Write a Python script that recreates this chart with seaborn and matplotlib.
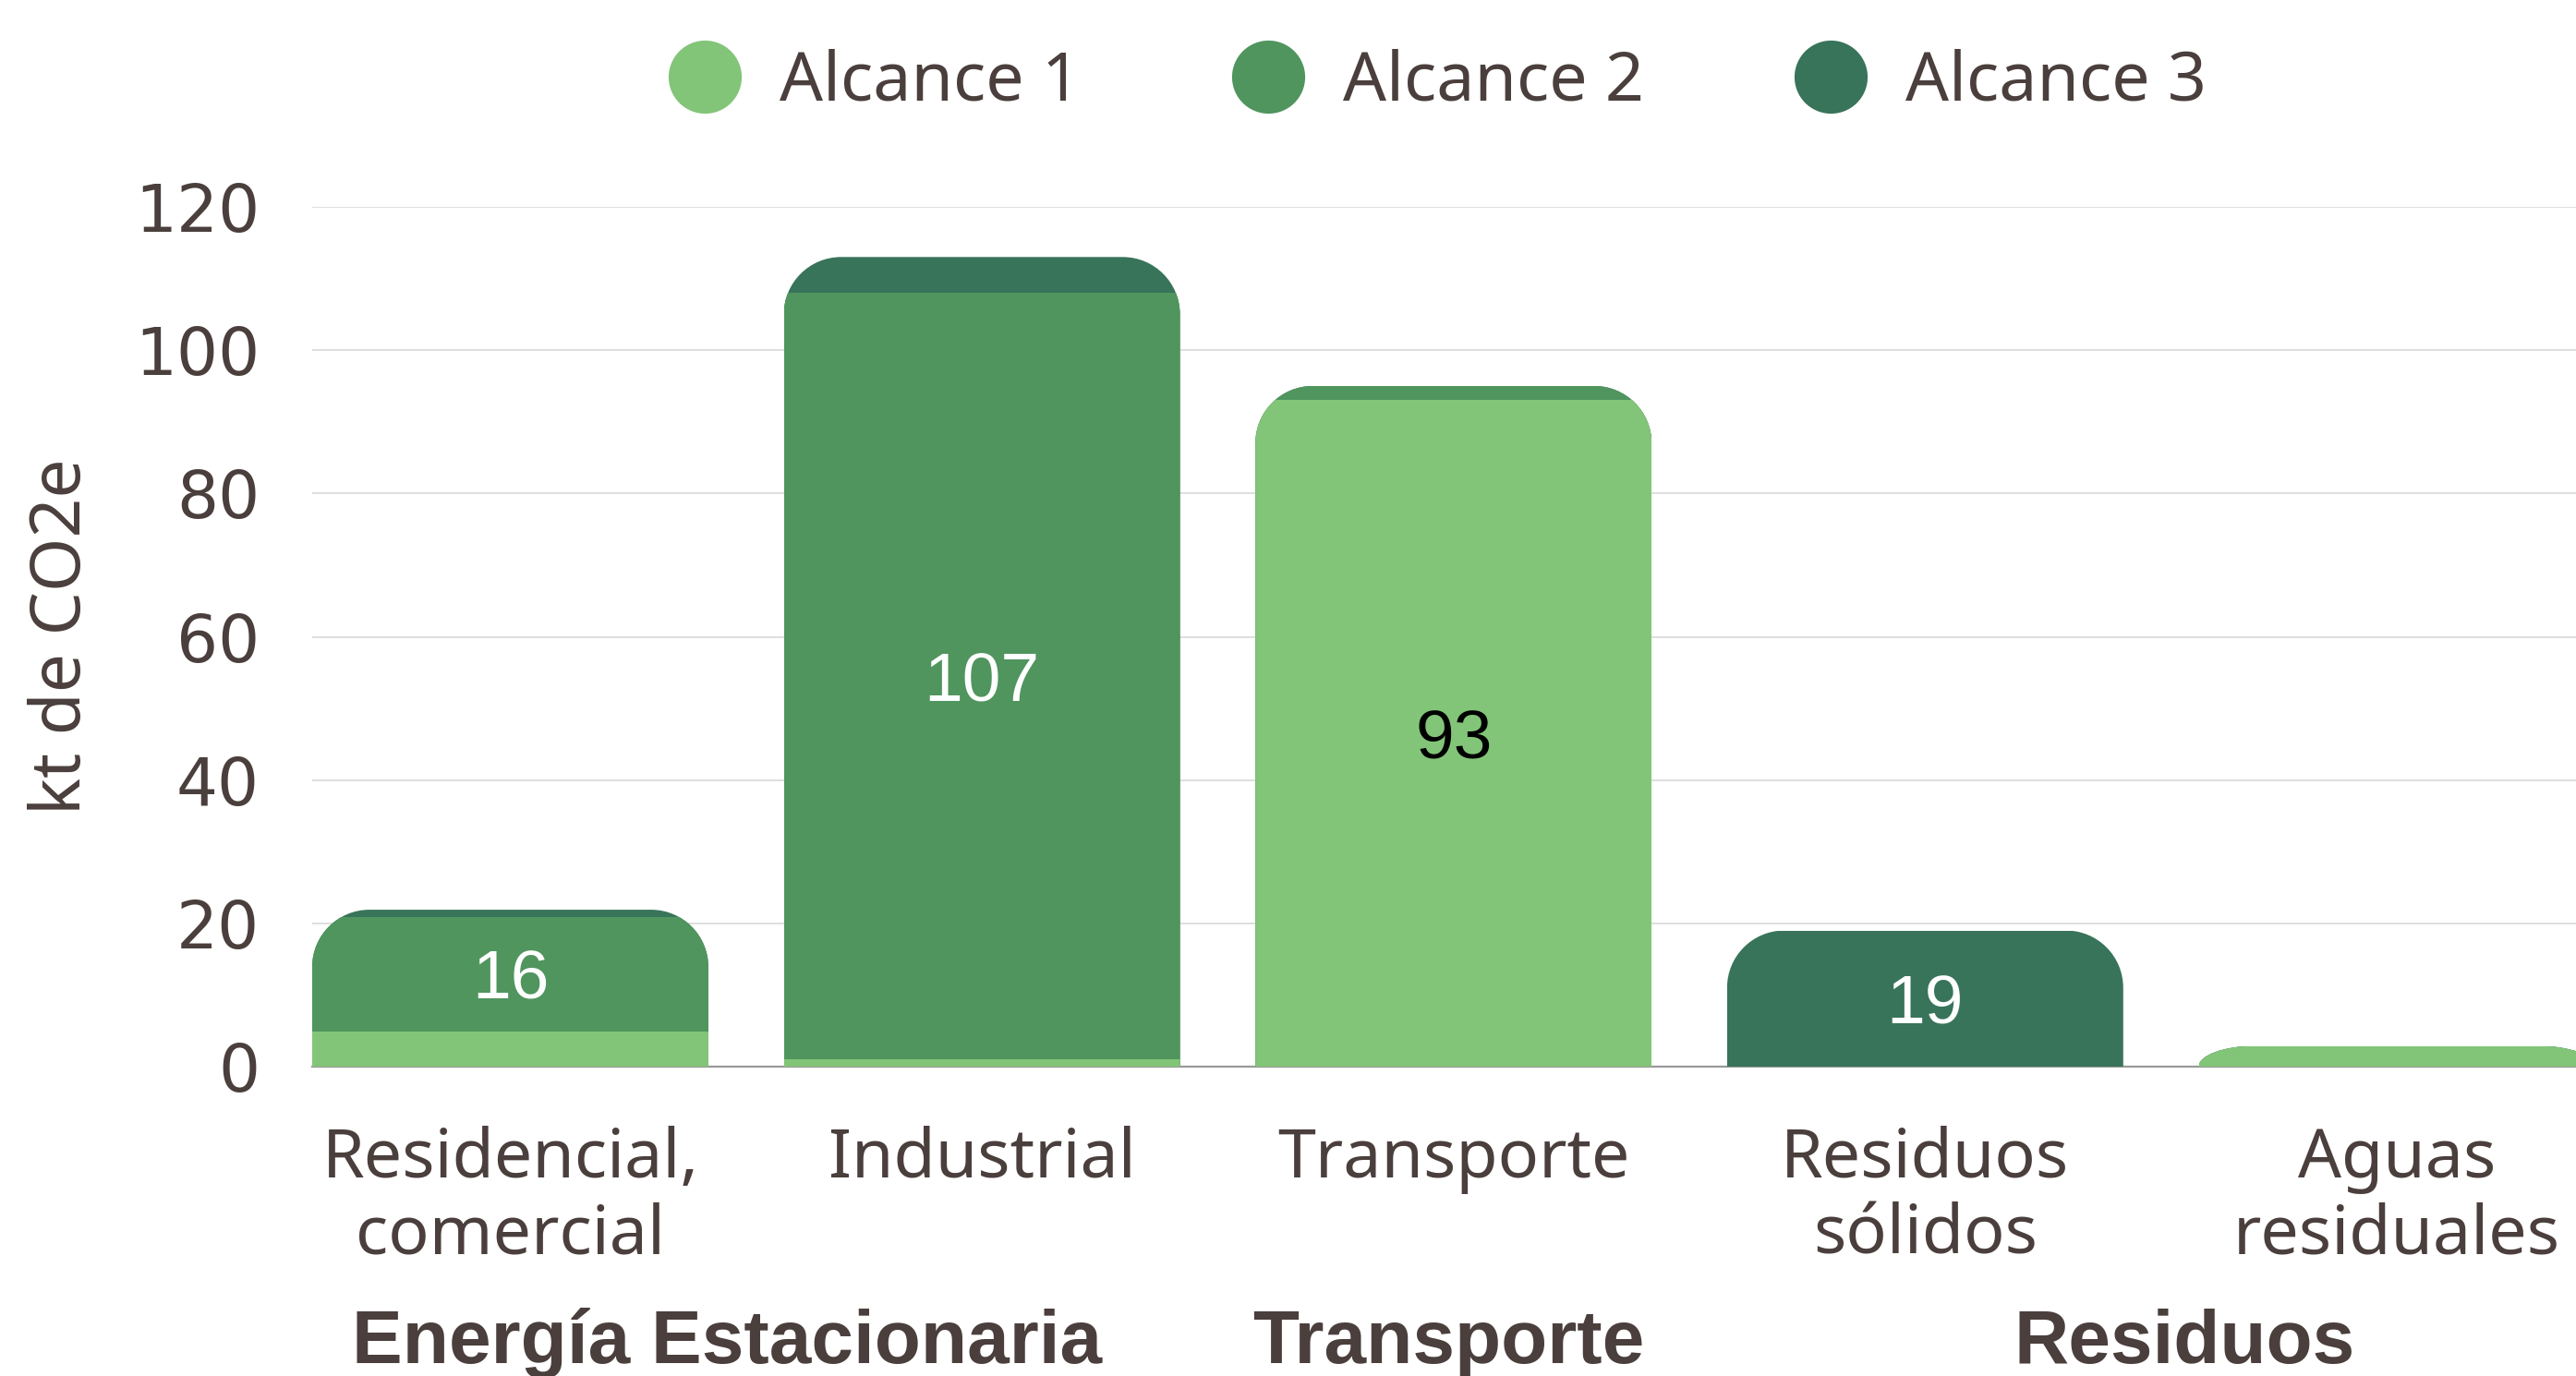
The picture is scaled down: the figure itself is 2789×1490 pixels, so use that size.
import numpy as np
import pandas as pd
import matplotlib
matplotlib.use("Agg")
import matplotlib.pyplot as plt
import seaborn as sns
from matplotlib.path import Path
from matplotlib.transforms import IdentityTransform, blended_transform_factory
from matplotlib.lines import Line2D

# ---------------- data ----------------
categories = ["Residencial,\ncomercial", "Industrial", "Transporte",
              "Residuos\nsólidos", "Aguas\nresiduales"]
alcance1 = [4.9, 1.0, 93.0, 0.0, 2.9]
alcance2 = [16.0, 107.0, 2.0, 0.0, 0.0]
alcance3 = [1.0, 5.0, 0.0, 19.0, 0.0]
series_names = ["Alcance 1", "Alcance 2", "Alcance 3"]
group_names = ["Energía Estacionaria", "Transporte", "Residuos"]
y_ticks = [0, 20, 40, 60, 80, 100, 120]
y_label = "kt de CO2e"

# ---------------- style ----------------
colors = ["#83C578", "#50955E", "#38745A"]
TEXT = "#4A3F3C"

sns.set_theme(style="white")
plt.rcParams["font.family"] = ["Noto Sans", "DejaVu Sans"]

W, H, DPI = 2789, 1490, 100
fig = plt.figure(figsize=(W / DPI, H / DPI), dpi=DPI)
fig.patch.set_facecolor("white")
ax = fig.add_axes([338 / W, 1 - 1155 / H, (W - 338) / W, (1155 - 224) / H])

df = pd.DataFrame({"cat": categories, "a1": alcance1, "a2": alcance2, "a3": alcance3})
df["s12"] = df["a1"] + df["a2"]
df["s123"] = df["s12"] + df["a3"]

bw = 0.84
for col, c in [("s123", colors[2]), ("s12", colors[1]), ("a1", colors[0])]:
    sns.barplot(data=df, x="cat", y=col, order=categories, color=c, width=bw,
                saturation=1, errorbar=None, ax=ax, zorder=3, linewidth=0)

ax.set_xlim(-0.42, 4.38)
ax.set_ylim(0, 120)
ax.set_yticks(y_ticks)
ax.set_yticklabels([str(t) for t in y_ticks], fontsize=51, color=TEXT,
                   family="DejaVu Sans")
ax.set_xticks(range(len(categories)))
ax.set_xticklabels(categories, fontsize=53, color=TEXT, linespacing=1.15)
ax.tick_params(axis="y", length=0, pad=41)
ax.tick_params(axis="x", length=0, pad=46)
ax.set_xlabel("")
ax.set_ylabel(y_label, fontsize=54, color=TEXT)
ax.yaxis.set_label_coords(-0.095, 0.5)

ax.yaxis.grid(True, color="#DEDEDE", lw=1.4)
ax.xaxis.grid(False)
ax.set_axisbelow(True)
for s in ["top", "right", "left"]:
    ax.spines[s].set_visible(False)
ax.spines["bottom"].set_color("#9A9A9A")
ax.spines["bottom"].set_linewidth(1.6)
ax.spines["bottom"].set_zorder(2)

# ---------------- rounded tops (clip) ----------------
fig.canvas.draw()
K = 0.5523


def rounded_top_path(x0, x1, y0, y1, r):
    h = y1 - y0
    w = x1 - x0
    ry = min(r, h)
    rx = min(r, w / 2)
    verts = [(x0, y0 - 6), (x0, y1 - ry),
             (x0, y1 - ry + K * ry), (x0 + rx - K * rx, y1), (x0 + rx, y1),
             (x1 - rx, y1),
             (x1 - rx + K * rx, y1), (x1, y1 - ry + K * ry), (x1, y1 - ry),
             (x1, y0 - 6), (x0, y0 - 6)]
    codes = [Path.MOVETO, Path.LINETO,
             Path.CURVE4, Path.CURVE4, Path.CURVE4,
             Path.LINETO,
             Path.CURVE4, Path.CURVE4, Path.CURVE4,
             Path.LINETO, Path.CLOSEPOLY]
    return Path(verts, codes)


clip_paths = {}
for i, tot in enumerate(df["s123"]):
    if tot <= 0:
        continue
    (dx0, dy0) = ax.transData.transform((i - bw / 2, 0))
    (dx1, dy1) = ax.transData.transform((i + bw / 2, tot))
    clip_paths[i] = rounded_top_path(dx0, dx1, dy0, dy1, 62)

for p in ax.patches:
    idx = int(round(p.get_x() + p.get_width() / 2))
    if idx in clip_paths:
        p.set_clip_path(clip_paths[idx], IdentityTransform())

# ---------------- bar labels ----------------
segs = np.array([alcance1, alcance2, alcance3]).T
for i, row in enumerate(segs):
    k = int(np.argmax(row))
    v = row[k]
    if v < 10:
        continue
    bottom = row[:k].sum()
    ax.text(i, bottom + v / 2, f"{v:.0f}", ha="center", va="center_baseline",
            fontsize=54, family="Liberation Sans",
            color="black" if k == 0 else "white", zorder=6)

# ---------------- group labels ----------------
tr = blended_transform_factory(ax.transData, fig.transFigure)
group_x = [0.46, 1.99, 3.55]
for gx, g in zip(group_x, group_names):
    fig.text(gx, 1 - 1476 / H, g, transform=tr, ha="center", va="baseline",
             fontsize=59, fontweight="bold", family="Liberation Sans",
             color=TEXT)

# ---------------- legend ----------------
handles = [Line2D([], [], marker="o", ls="", markersize=57, markerfacecolor=c,
                  markeredgewidth=0) for c in colors]
fig.legend(handles, series_names, loc="center", bbox_to_anchor=(0.5585, 0.940),
           ncol=3, frameon=False, fontsize=53, handlelength=1.0,
           handletextpad=0.6, columnspacing=2.25, labelcolor=TEXT)

fig.savefig("out.png", dpi=DPI, facecolor="white")
